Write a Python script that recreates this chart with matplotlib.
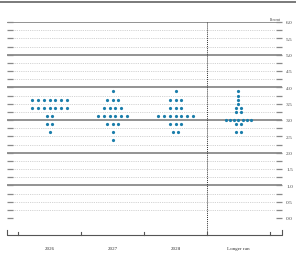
import matplotlib
matplotlib.use("Agg")
import matplotlib.pyplot as plt
import numpy as np

# FOMC-style dot plot: midpoint of target range, one dot per participant
categories = ["2026", "2027", "2028", "Longer run"]

rates_2026 = [3.625, 3.375, 3.125, 2.875, 2.625]
counts_2026 = [7, 7, 2, 2, 1]

rates_2027 = [3.875, 3.625, 3.375, 3.125, 2.875, 2.625, 2.375]
counts_2027 = [1, 3, 4, 6, 3, 1, 1]

rates_2028 = [3.875, 3.625, 3.375, 3.125, 2.875, 2.625]
counts_2028 = [1, 3, 3, 7, 3, 2]

rates_lr = [3.875, 3.75, 3.625, 3.5, 3.375, 3.25, 3.0, 2.875, 2.625]
counts_lr = [1, 1, 1, 1, 2, 2, 7, 2, 2]

tick_values = np.arange(0, 6.01, 0.5)
tick_labels = [f"{v:.1f}" for v in tick_values]

DOT = "#1b7eab"
GRID = "#8a8a8a"
TXT = "#444444"
SERIF = ["Liberation Serif", "DejaVu Serif"]

W, H = 296, 255
fig = plt.figure(figsize=(W / 100, H / 100), dpi=100)

# thin strip axes holding the rule across the top of the figure
top = fig.add_axes([0, (H - 6) / H, 1, 6 / H])
top.axis("off")
top.set_xlim(0, 1)
top.set_ylim(0, 6)
top.axhline(3, color="#7a7a7a", lw=1.4)

# axes box in pixels: x 7..282, y 23 (6.0) .. 219 (0.0)
ax = fig.add_axes([7 / W, (H - 219) / H, 275 / W, 196 / H])
ax.set_xlim(-0.5 - 11 / 63, 3.5 + 12 / 63)
ax.set_ylim(0, 6)

# horizontal rules
for v in np.arange(0, 6.01, 0.25):
    if v > 0 and abs(v - round(v)) < 1e-9:
        ax.axhline(v, color=GRID, lw=1.3, zorder=1)
    else:
        ax.axhline(v, xmin=0.02, xmax=0.975, color="#c4c4c4", lw=0.6,
                   ls=(0, (1, 1.2)), zorder=1)

# dots
columns = [(rates_2026, counts_2026), (rates_2027, counts_2027),
           (rates_2028, counts_2028), (rates_lr, counts_lr)]
spacing = [0.092, 0.092, 0.092, 0.067]
for i, (rates, counts) in enumerate(columns):
    for r, n in zip(rates, counts):
        xs = i + (np.arange(n) - (n - 1) / 2) * spacing[i]
        ax.plot(xs, [r] * n, "o", ms=2.3, color=DOT, mec="none", zorder=3)

# separator before longer run
ax.plot([2.5, 2.5], [-0.52, 6.0], color="#333333", lw=0.7, ls=(0, (1, 1)),
        clip_on=False, zorder=2)

# bottom bracket
x0, x1 = ax.get_xlim()
ax.plot([x0, x0, x1, x1], [-0.37, -0.52, -0.52, -0.37], color="#555555",
        lw=0.8, clip_on=False)
for b in [-0.5, 0.5, 1.5, 2.5, 3.5]:
    ax.plot([b, b], [-0.52, -0.43], color="#555555", lw=0.8, clip_on=False)

for i, c in enumerate(categories):
    ax.text(i, -0.92, c, ha="center", va="center", fontsize=3.6,
            family=SERIF, color="#333333")

# y ticks: short marks inside both edges, labels on the right
ax.set_yticks(np.arange(0, 6.01, 0.25), minor=True)
ax.tick_params(which="minor", axis="y", direction="in", left=True, right=True,
               length=4.3, width=0.9, color=GRID)
ax.set_yticks(tick_values)
ax.set_yticklabels(tick_labels)
ax.tick_params(which="major", axis="y", direction="in", left=True, right=True,
               labelleft=False, labelright=True, length=4.3, width=0.9,
               color=GRID, labelsize=3.9, labelcolor=TXT, pad=3)
for lbl in ax.get_yticklabels():
    lbl.set_family(SERIF)
ax.set_xticks([])
for s in ax.spines.values():
    s.set_visible(False)

ax.text(3.59, 6.09, "Percent", ha="center", va="center", fontsize=2.6,
        family=SERIF, color="#333333")

fig.savefig("out.png", dpi=100)
